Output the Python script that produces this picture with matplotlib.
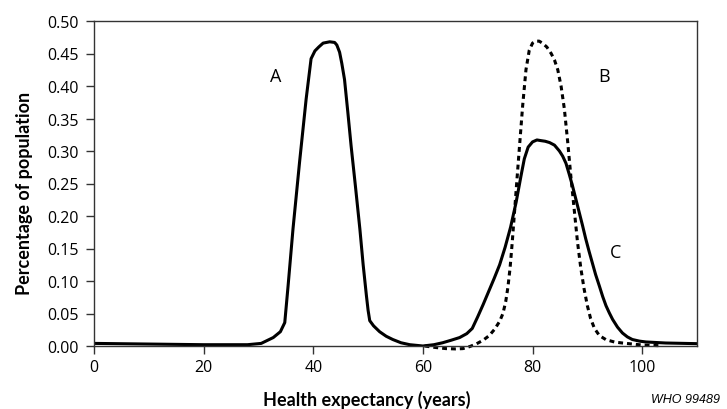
import numpy as np
import matplotlib
matplotlib.use('Agg')
import matplotlib.pyplot as plt

# curve A + C (one solid line)
x_solid = [0, 10, 20, 28, 30.5, 32.7, 34.0, 34.8, 35.4, 36.3, 37.5, 38.7, 39.6,
           40.3, 41.0, 41.8, 43.0, 43.9, 44.3, 44.8, 45.2, 45.7, 46.3, 46.9,
           47.7, 48.5, 49.1, 49.7, 50.0, 50.3, 51.0, 52.1, 53.3, 54.5, 56.0,
           57.6, 60.0, 62.0, 63.6, 65.2, 66.7, 68.0, 69.0, 70.0, 71.0, 72.0,
           73.0, 74.0, 75.0, 76.0, 77.0, 77.9, 78.5, 79.2, 80.0, 80.8, 81.5,
           82.3, 83.1, 84.0, 84.9, 85.5, 86.1, 86.7, 87.3, 87.9, 88.5, 89.1,
           89.7, 90.3, 90.9, 91.5, 92.2, 92.8, 93.4, 94.0, 94.6, 95.5, 96.4,
           97.3, 98.2, 99.5, 100.7, 104.3, 110]
y_solid = [0.004, 0.003, 0.002, 0.002, 0.004, 0.013, 0.022, 0.036, 0.092, 0.18,
           0.283, 0.38, 0.442, 0.454, 0.46, 0.466, 0.468, 0.467, 0.463, 0.452,
           0.435, 0.41, 0.36, 0.308, 0.245, 0.18, 0.125, 0.077, 0.055, 0.039,
           0.031, 0.022, 0.015, 0.010, 0.005, 0.002, 0.0, 0.002, 0.005, 0.009,
           0.013, 0.019, 0.027, 0.045, 0.064, 0.084, 0.104, 0.125, 0.152, 0.183,
           0.221, 0.262, 0.288, 0.306, 0.314, 0.317, 0.316, 0.315, 0.313, 0.309,
           0.300, 0.292, 0.281, 0.264, 0.246, 0.226, 0.206, 0.186, 0.165, 0.146,
           0.128, 0.110, 0.092, 0.076, 0.062, 0.051, 0.041, 0.029, 0.020, 0.014,
           0.010, 0.0075, 0.0062, 0.0046, 0.0036]

# curve B (dashed)
x_dash = [60.3, 62.0, 64.2, 66.0, 67.3, 68.5, 69.7, 71.0, 72.1, 73.1, 74.0,
          74.6, 75.1, 75.5, 75.9, 76.3, 76.7, 77.1, 77.6, 78.2, 78.8, 79.4,
          80.0, 80.6, 81.2, 81.8, 82.6, 83.4, 84.0, 84.6, 85.2, 85.8, 86.4,
          87.0, 87.6, 88.2, 88.8, 89.4, 90.0, 90.6, 91.3, 92.2, 93.4, 95.0,
          96.4, 100.0, 103.1]
y_dash = [0.0, -0.002, -0.004, -0.0045, -0.004, -0.001, 0.003, 0.009, 0.016,
          0.026, 0.038, 0.05, 0.068, 0.09, 0.12, 0.16, 0.205, 0.25, 0.305, 0.37,
          0.425, 0.455, 0.466, 0.469, 0.469, 0.466, 0.46, 0.45, 0.44, 0.425,
          0.40, 0.365, 0.315, 0.26, 0.21, 0.16, 0.12, 0.088, 0.062, 0.042,
          0.027, 0.016, 0.0097, 0.006, 0.0046, 0.0015, 0.0005]

curve_labels = ['A', 'B', 'C']
label_x = [33.2, 93.1, 95.2]
label_y = [0.415, 0.415, 0.144]

x_ticks = [0, 20, 40, 60, 80, 100]
y_ticks = [0.00, 0.05, 0.10, 0.15, 0.20, 0.25, 0.30, 0.35, 0.40, 0.45, 0.50]

fig = plt.figure(figsize=(7.27, 4.10), dpi=100)
ax = fig.add_axes([94 / 727, 63 / 410, 603 / 727, 325 / 410])

ax.plot(x_solid, y_solid, color='black', lw=2.2, solid_joinstyle='round')
ax.plot(x_dash, y_dash, color='black', lw=2.2, linestyle=(0, (1.6, 1.3)),
        clip_on=False)

for t, lx, ly in zip(curve_labels, label_x, label_y):
    ax.text(lx, ly, t, ha='center', va='center', fontsize=13, family='Open Sans')

ax.set_xlim(0, 110)
ax.set_ylim(0, 0.5)
ax.set_xticks(x_ticks)
ax.set_yticks(y_ticks)
ax.set_yticklabels(['%.2f' % v for v in y_ticks])
ax.tick_params(direction='out', length=5.8, width=1.0, labelsize=11.5, color='#333333')
ax.tick_params(axis='y', pad=5.5)
ax.tick_params(axis='x', pad=3.5)
for lab in ax.get_xticklabels() + ax.get_yticklabels():
    lab.set_family('Open Sans')
for s in ax.spines.values():
    s.set_linewidth(1.0)
    s.set_color('#333333')

fig.text(367 / 727, 1 - 400 / 410, 'Health expectancy (years)', ha='center',
         va='center', fontsize=13, fontweight='bold', family='Lato')
fig.text(25 / 727, 1 - 193 / 410, 'Percentage of population', ha='center',
         va='center', rotation=90, fontsize=13, fontweight='bold', family='Lato')
fig.text(720 / 727, 1 - 400 / 410, 'WHO 99489', ha='right', va='center',
         fontsize=9, style='italic', family='Liberation Sans')

fig.savefig('out.png', dpi=100)
